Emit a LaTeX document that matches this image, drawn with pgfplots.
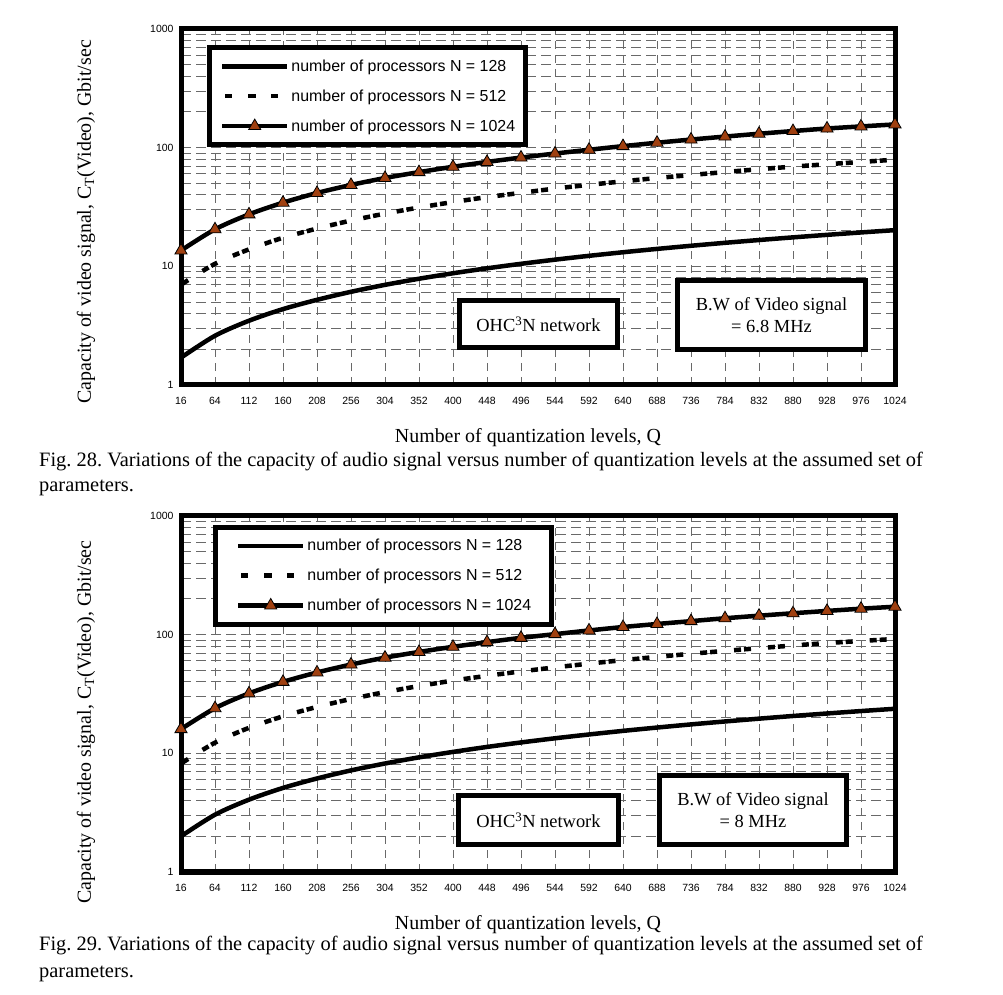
\documentclass[border=0pt]{standalone}
\usepackage{fontspec}
\setmainfont{Liberation Serif}
\newfontfamily\arial{Liberation Sans}
\usepackage{pgfplots}
\pgfplotsset{compat=1.18}
\definecolor{markbrown}{RGB}{160,64,16}
\definecolor{gridgray}{RGB}{105,105,105}
\frenchspacing

\pgfplotsset{
  legend image code/.code={\draw[mark repeat=2,mark phase=2,#1] plot coordinates {(0bp,0bp) (32.5bp,0bp) (65bp,0bp)};},
  every axis/.append style={
    scale only axis, width=714bp, height=356bp,
    xmin=16, xmax=1024, ymin=1, ymax=1000,
    xtick={16,64,...,1024},
    xticklabels={16,64,112,160,208,256,304,352,400,448,496,544,592,640,688,736,784,832,880,928,976,1024},
    ytick={1,10,100,1000}, yticklabels={1,10,100,1000},
    minor ytick={2,3,...,9,20,30,...,90,200,300,...,900},
    xmajorgrids, ymajorgrids, yminorgrids,
    major tick length=0pt, minor tick length=0pt,
    axis line style={line width=5bp},
    ticklabel style={font=\arial\fontsize{10.5}{12}\selectfont},
    xticklabel style={yshift=-9bp},
    yticklabel style={xshift=-4bp},
    major x grid style={gridgray, line width=1bp, dash pattern=on 8bp off 6bp},
    major y grid style={gridgray, line width=1bp, dash pattern=on 10bp off 5bp},
    minor y grid style={gridgray, line width=1bp, dash pattern=on 10bp off 5bp},
    xlabel={Number of quantization levels, Q},
    ylabel={Capacity of video signal, C\textsubscript{T}(Video), Gbit/sec},
    label style={font=\fontsize{20}{24}\selectfont},
    xlabel style={at={(axis description cs:0.486,-0.149)}, anchor=center},
    clip=false,
    legend cell align=left,
  },
}

\begin{document}
\begin{tikzpicture}
\path[use as bounding box] (0bp,0bp) rectangle (1003bp,995bp);

% ---------- Fig. 28 ----------
\begin{semilogyaxis}[at={(181bp,610bp)}, anchor=south west,
  ylabel style={at={(axis description cs:-0.133,0.458)}, anchor=center},
  legend style={anchor=north west, draw=black, line width=5bp, fill=white,
     inner ysep=12bp, row sep=16.5bp, column sep=2bp,
     nodes={inner sep=0pt, font=\arial\fontsize{16}{19}\selectfont},
     at={(axis description cs:0.0371,0.9537)}, inner xsep=10bp}]
\addplot[black, line width=4.5bp, smooth] coordinates {(16,1.70) (64,2.60) (112,3.48) (160,4.36) (208,5.22) (256,6.10) (304,6.98) (352,7.86) (400,8.74) (448,9.62) (496,10.5) (544,11.38) (592,12.26) (640,13.14) (688,14.02) (736,14.9) (784,15.78) (832,16.66) (880,17.54) (928,18.42) (976,19.3) (1024,20.18)};
\addlegendentry{number of processors N = 128}
\addplot[black, line width=4.5bp, smooth, dash pattern=on 7bp off 3bp on 7bp off 17bp, dash phase=8.5bp,
     legend image post style={dash pattern=on 7bp off 16bp, dash phase=20bp}] coordinates {(16,7.0) (64,10.5) (112,13.9) (160,17.4) (208,20.8) (256,24.3) (304,27.8) (352,31.3) (400,34.8) (448,38.3) (496,41.6) (544,45.2) (592,48.6) (640,52) (688,55.5) (736,58.8) (784,62.3) (832,65.8) (880,69.2) (928,72.5) (976,75.8) (1024,79.2)};
\addlegendentry{number of processors N = 512}
\addplot[black, line width=4.5bp, smooth, mark=triangle*, mark size=7bp,
     mark options={fill=markbrown, draw=black, line width=0.8bp, solid}] coordinates {(16,13.6) (64,20.5) (112,27.4) (160,34.4) (208,41.5) (256,48.5) (304,55.5) (352,62.2) (400,69) (448,75.8) (496,82.5) (544,89.2) (592,96) (640,103) (688,110) (736,117) (784,124) (832,131) (880,138) (928,145) (976,151) (1024,157)};
\addlegendentry{number of processors N = 1024}
\end{semilogyaxis}
\node[draw, line width=5bp, fill=white, minimum width=158bp, minimum height=47bp, inner sep=0pt, font=\fontsize{18.5}{22}\selectfont] at (538.5bp,671bp) {OHC\textsuperscript{3}N network};
\node[draw, line width=5bp, fill=white, minimum width=188bp, minimum height=69bp, inner sep=0pt, align=center, font=\fontsize{18.5}{22}\selectfont] at (771.5bp,680bp) {B.W of Video signal\\= 6.8 MHz};
\node[anchor=base west, inner sep=0pt, font=\fontsize{20.5}{25}\selectfont] at (39bp,528bp) {Fig. 28. Variations of the capacity of audio signal versus number of quantization levels at the assumed set of};
\node[anchor=base west, inner sep=0pt, font=\fontsize{20.5}{25}\selectfont] at (39bp,503bp) {parameters.};

% ---------- Fig. 29 ----------
\begin{semilogyaxis}[at={(181bp,123bp)}, anchor=south west,
  ylabel style={at={(axis description cs:-0.133,0.421)}, anchor=center},
  legend style={anchor=north west, draw=black, line width=5bp, fill=white,
     inner ysep=12bp, row sep=16.5bp, column sep=2bp,
     nodes={inner sep=0pt, font=\arial\fontsize{16}{19}\selectfont},
     at={(axis description cs:0.0455,0.975)}, inner xsep=20bp}]
\addplot[black, line width=4.5bp, smooth] coordinates {(16,2.0) (64,3.04) (112,4.07) (160,5.11) (208,6.14) (256,7.18) (304,8.21) (352,9.25) (400,10.28) (448,11.32) (496,12.35) (544,13.39) (592,14.42) (640,15.46) (688,16.49) (736,17.53) (784,18.56) (832,19.6) (880,20.64) (928,21.67) (976,22.71) (1024,23.74)};
\addlegendentry{number of processors N = 128}
\addplot[black, line width=4.5bp, smooth, dash pattern=on 7bp off 3bp on 7bp off 17bp, dash phase=8.5bp,
     legend image post style={dash pattern=on 7bp off 16bp, dash phase=20bp}] coordinates {(16,8.2) (64,12.3) (112,16.4) (160,20.5) (208,24.6) (256,28.7) (304,32.8) (352,36.9) (400,41) (448,45) (496,49) (544,53) (592,57) (640,61) (688,65) (736,69) (784,73) (832,77) (880,81) (928,85) (976,88.5) (1024,92)};
\addlegendentry{number of processors N = 512}
\addplot[black, line width=4.5bp, smooth, mark=triangle*, mark size=7bp,
     mark options={fill=markbrown, draw=black, line width=0.8bp, solid}] coordinates {(16,16) (64,24) (112,32) (160,40) (208,48) (256,56) (304,64) (352,71.5) (400,79) (448,86.5) (496,94) (544,101) (592,108.5) (640,116) (688,123) (736,130) (784,137.5) (832,144.5) (880,151.5) (928,158.5) (976,165.5) (1024,172)};
\addlegendentry{number of processors N = 1024}
\end{semilogyaxis}
\node[draw, line width=5bp, fill=white, minimum width=160bp, minimum height=49bp, inner sep=0pt, font=\fontsize{18.5}{22}\selectfont] at (538.5bp,175bp) {OHC\textsuperscript{3}N network};
\node[draw, line width=5bp, fill=white, minimum width=187bp, minimum height=69bp, inner sep=0pt, align=center, font=\fontsize{18.5}{22}\selectfont] at (753bp,185bp) {B.W of Video signal\\= 8 MHz};
\node[anchor=base west, inner sep=0pt, font=\fontsize{20.5}{25}\selectfont] at (39bp,44bp) {Fig. 29. Variations of the capacity of audio signal versus number of quantization levels at the assumed set of};
\node[anchor=base west, inner sep=0pt, font=\fontsize{20.5}{25}\selectfont] at (39bp,18bp) {parameters.};
\end{tikzpicture}
\end{document}
